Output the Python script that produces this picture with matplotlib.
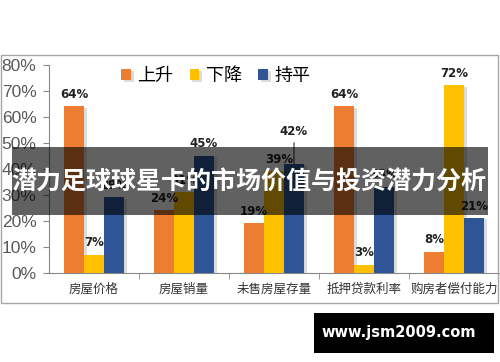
import numpy as np
import matplotlib
matplotlib.use('Agg')
import matplotlib.pyplot as plt
import matplotlib.patheffects as pe
from matplotlib.patches import Rectangle
from matplotlib.ticker import FuncFormatter, FixedLocator

plt.rcParams['font.family'] = ['Noto Sans CJK SC', 'DejaVu Sans']

# data
categories = ['房屋价格', '房屋销量', '未售房屋存量', '抵押贷款利率', '购房者偿付能力']
series_names = ['上升', '下降', '持平']
rise = [64, 24, 19, 64, 8]
fall = [7, 31, 39, 3, 72]
flat = [29, 45, 42, 33, 21]
y_ticks = [0, 10, 20, 30, 40, 50, 60, 70, 80]

colors = ['#ED7D31', '#FFC000', '#2F5597']
title = '潜力足球球星卡的市场价值与投资潜力分析'
watermark = 'www.jsm2009.com'

fig = plt.figure(figsize=(5.0, 3.62), dpi=100)
fig.patch.set_facecolor('white')

# outer chart frame
fig.patches.append(Rectangle((0.002, 1 - 303 / 362), 0.994, (303 - 55) / 362,
                             transform=fig.transFigure, fill=False,
                             edgecolor='#A6A6A6', linewidth=1.0))

ax = fig.add_axes([0.098, 1 - 272.7 / 362, 0.9, (272.7 - 64.7) / 362])
x = np.arange(len(categories))
w = 0.222
shadow = [pe.SimplePatchShadow(offset=(2, -1), alpha=0.25, shadow_rgbFace='#777777'), pe.Normal()]

for i, (vals, col) in enumerate(zip([rise, fall, flat], colors)):
    bars = ax.bar(x + (i - 1) * w, vals, width=w, color=col, label=series_names[i],
                  zorder=3)
    for b in bars:
        b.set_path_effects(shadow)

# value labels
for i, vals in enumerate([rise, fall, flat]):
    for j, v in enumerate(vals):
        xc = x[j] + (i - 1) * w
        if i == 2 and j == 2:
            ax.annotate(f'{v}%', xy=(xc, v), xytext=(0, 18), textcoords='offset points',
                        ha='center', va='bottom', fontsize=8.5, fontweight='bold',
                        color='#222222', family='DejaVu Sans',
                        arrowprops=dict(arrowstyle='-', color='#333333', lw=0.8,
                                        shrinkA=1, shrinkB=0), zorder=5)
        else:
            dx = 4 if (i == 1 and j == 2) else 0
            ax.annotate(f'{v}%', xy=(xc, v), xytext=(dx, 4), textcoords='offset points',
                        ha='center', va='bottom', fontsize=8.5, fontweight='bold',
                        color='#222222', family='DejaVu Sans', zorder=5)

ax.set_xlim(-0.5, len(categories) - 0.5)
ax.set_ylim(0, 80)
ax.yaxis.set_major_locator(FixedLocator(y_ticks))
ax.yaxis.set_major_formatter(FuncFormatter(lambda v, p: f'{int(v)}%'))
ax.tick_params(axis='y', labelsize=12.5, labelcolor='#595959', length=4,
               color='#888888', pad=5)
for lab in ax.get_yticklabels():
    lab.set_family('Liberation Sans')

ax.set_xticks(x)
ax.set_xticklabels(categories, fontsize=9, color='#333333')
ax.tick_params(axis='x', length=0, pad=7)
ax.set_xticks(np.arange(0.5, len(categories) - 0.5, 1), minor=True)
ax.tick_params(axis='x', which='minor', length=4, color='#888888')

for s in ['top', 'right']:
    ax.spines[s].set_visible(False)
ax.spines['left'].set_color('#888888')
ax.spines['bottom'].set_color('#888888')

ax.legend(loc='center left', bbox_to_anchor=(0.16, 0.945), ncol=3, frameon=False,
          fontsize=13, handlelength=0.55, handleheight=0.55, handletextpad=0.35,
          columnspacing=0.9, borderpad=0, borderaxespad=0)

# dark overlay banner with title
fig.patches.append(Rectangle((12 / 500, 1 - 215 / 362), 476 / 500, 68 / 362,
                             transform=fig.transFigure, facecolor='black',
                             alpha=0.62, edgecolor='none', zorder=10))
fig.text(0.497, 1 - 182 / 362, title, ha='center', va='center', color='white',
         fontsize=18, fontweight='bold', zorder=11)

# watermark box
fig.patches.append(Rectangle((314 / 500, 1 - 353 / 362), 180 / 500, 40 / 362,
                             transform=fig.transFigure, facecolor='black',
                             edgecolor='none', zorder=10))
fig.text(399 / 500, 1 - 333 / 362, watermark, ha='center', va='center',
         color='white', fontsize=10.5, fontweight='bold', family='DejaVu Sans',
         zorder=11)

fig.savefig('out.png', dpi=100)
